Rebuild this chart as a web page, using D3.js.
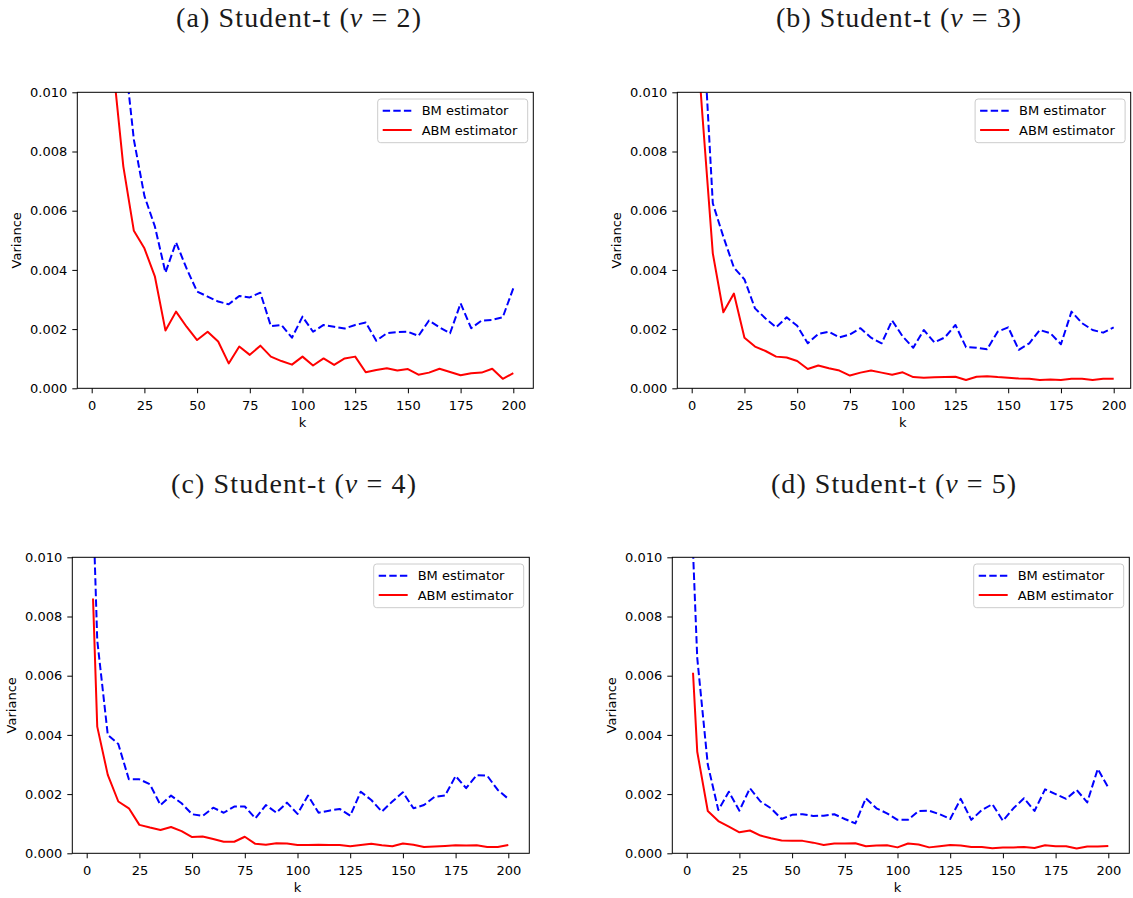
<!DOCTYPE html>
<html><head><meta charset="utf-8">
<script src="https://cdn.jsdelivr.net/npm/d3@7/dist/d3.min.js"></script>
<style>
html,body{margin:0;padding:0;background:#fff;}
svg{display:block;}
.tick text{font-family:"DejaVu Sans",sans-serif;font-size:13px;fill:#000;}
</style></head>
<body>
<svg id="chart" width="1133" height="898"></svg>
<script>
// ---------- data ----------
const kValues = [3,5,10,15,20,25,30,35,40,45,50,55,60,65,70,75,80,85,90,95,100,105,110,115,120,125,130,135,140,145,150,155,160,165,170,175,180,185,190,195,200];
const xTicks = [0,25,50,75,100,125,150,175,200];
const yTicks = [0,0.002,0.004,0.006,0.008,0.010];
const titles = ["(a) Student-t (", "(b) Student-t (", "(c) Student-t (", "(d) Student-t ("];
const nuValues = [2,3,4,5];
const seriesNames = ["BM estimator","ABM estimator"];

const bmA = [0.056,0.034,0.017,0.0117,0.0084,0.0065,0.00546,0.00391,0.00493,0.00405,0.00327,0.0031,0.00293,0.00284,0.00312,0.00307,0.00323,0.0021,0.00214,0.00171,0.00242,0.00191,0.00214,0.00208,0.00202,0.00214,0.00222,0.00161,0.00186,0.0019,0.00191,0.00177,0.00229,0.00206,0.00186,0.00287,0.00203,0.00229,0.00231,0.0024,0.00338];
const abmA = [0.036,0.021,0.011,0.0075,0.00532,0.00473,0.00377,0.00195,0.00259,0.00208,0.00163,0.00191,0.00158,0.00084,0.00141,0.00113,0.00144,0.00107,0.00092,0.0008,0.00107,0.00077,0.00101,0.00079,0.00101,0.00107,0.00054,0.00062,0.00068,0.0006,0.00065,0.00046,0.00053,0.00066,0.00055,0.00044,0.00051,0.00053,0.00066,0.00032,0.00051];
const bmB = [0.02,0.0128,0.00625,0.00512,0.00408,0.00368,0.0027,0.00236,0.00206,0.0024,0.00211,0.00152,0.00184,0.00191,0.00172,0.00182,0.00203,0.00171,0.00152,0.00229,0.00175,0.00137,0.00197,0.00155,0.00172,0.00214,0.00139,0.00137,0.00132,0.00191,0.00206,0.0013,0.00152,0.00197,0.00186,0.00149,0.00259,0.0022,0.00197,0.00188,0.00206];
const abmB = [0.0113,0.0093,0.00456,0.00257,0.0032,0.00171,0.00141,0.00126,0.00107,0.00104,0.00092,0.00065,0.00077,0.00068,0.0006,0.00043,0.00053,0.0006,0.00053,0.00046,0.00054,0.00038,0.00036,0.00037,0.00038,0.00039,0.00028,0.00039,0.00041,0.00038,0.00036,0.00033,0.00032,0.00028,0.0003,0.00028,0.00032,0.00032,0.00028,0.00032,0.00032];
const bmC = [0.0118,0.0072,0.004,0.00369,0.0025,0.0025,0.00233,0.00163,0.00195,0.00169,0.00132,0.00126,0.00154,0.00137,0.00158,0.00158,0.00118,0.00163,0.00137,0.00171,0.00133,0.00195,0.00137,0.00144,0.0015,0.00127,0.00208,0.0018,0.00141,0.00175,0.00206,0.00152,0.00163,0.00191,0.00195,0.00261,0.0022,0.00264,0.00262,0.00214,0.00184];
const abmC = [0.00861,0.00428,0.00265,0.00175,0.00152,0.00096,0.00087,0.00079,0.00089,0.00075,0.00055,0.00057,0.00048,0.00039,0.00039,0.00056,0.00032,0.00029,0.00034,0.00033,0.00028,0.00028,0.00029,0.00028,0.00028,0.00024,0.00028,0.00032,0.00027,0.00024,0.00033,0.00029,0.00021,0.00023,0.00025,0.00027,0.00026,0.00027,0.00021,0.00021,0.00028];
const bmD = [0.0102,0.0066,0.003,0.00146,0.00208,0.00144,0.0022,0.00175,0.00152,0.00116,0.0013,0.00132,0.00126,0.00127,0.00132,0.00116,0.00101,0.00186,0.00152,0.00135,0.00113,0.00113,0.00143,0.00144,0.00132,0.00116,0.00184,0.00113,0.00146,0.00166,0.0011,0.00152,0.00186,0.00143,0.00216,0.002,0.00184,0.00214,0.00172,0.00285,0.00222];
const abmD = [0.0061,0.00343,0.00143,0.00109,0.0009,0.00071,0.00077,0.0006,0.00051,0.00043,0.00042,0.00042,0.00036,0.00028,0.00033,0.00033,0.00034,0.00024,0.00026,0.00027,0.0002,0.00033,0.0003,0.0002,0.00024,0.00028,0.00026,0.00021,0.00021,0.00017,0.0002,0.0002,0.00021,0.00018,0.00027,0.00024,0.00024,0.00016,0.00023,0.00023,0.00025];

// ---------- layout ----------
const layout = [
  {left:77.3, right:533.3, top:92.3, bottom:388.3, x0:91.7, x200:513.3, tx:298.5, ty:27},
  {left:677.3, right:1130.7, top:92.3, bottom:388.3, x0:691.7, x200:1113.7, tx:898.5, ty:27},
  {left:72.3, right:529.3, top:557.3, bottom:853.3, x0:86.7, x200:508.3, tx:293.5, ty:493},
  {left:672.3, right:1129.3, top:557.3, bottom:853.3, x0:686.7, x200:1108.3, tx:893.5, ty:493}
];
const bmSeries = [bmA,bmB,bmC,bmD];
const abmSeries = [abmA,abmB,abmC,abmD];
const colors = ["#0000ff","#ff0000"];

const svg = d3.select("#chart");
const defs = svg.append("defs");

layout.forEach((L,i)=>{
  const x = d3.scaleLinear().domain([0,200]).range([L.x0,L.x200]);
  const y = d3.scaleLinear().domain([0,0.010]).range([L.bottom,L.top]);
  const g = svg.append("g");

  // title
  const t = g.append("text").attr("x",L.tx).attr("y",L.ty)
    .attr("text-anchor","middle")
    .attr("textLength",245).attr("lengthAdjust","spacing")
    .style("font-family","'Liberation Serif','Times New Roman',serif")
    .style("font-size","28px").attr("fill","#1a1a1a");
  t.append("tspan").text(titles[i]);
  t.append("tspan").style("font-style","italic").text("\u03bd");
  t.append("tspan").text(" = " + nuValues[i] + ")");

  // clip
  defs.append("clipPath").attr("id","clip"+i).append("rect")
    .attr("x",L.left).attr("y",L.top).attr("width",L.right-L.left).attr("height",L.bottom-L.top);

  // lines
  const line = d3.line().x((d,j)=>x(kValues[j])).y(d=>y(d));
  const lg = g.append("g").attr("clip-path","url(#clip"+i+")");
  lg.append("path").datum(bmSeries[i]).attr("d",line)
    .attr("fill","none").attr("stroke",colors[0]).attr("stroke-width",2)
    .attr("stroke-dasharray","7.4,3.2").attr("stroke-linejoin","round");
  lg.append("path").datum(abmSeries[i]).attr("d",line)
    .attr("fill","none").attr("stroke",colors[1]).attr("stroke-width",2)
    .attr("stroke-linejoin","round");

  // frame
  g.append("rect").attr("x",L.left).attr("y",L.top)
    .attr("width",L.right-L.left).attr("height",L.bottom-L.top)
    .attr("fill","none").attr("stroke","#000").attr("stroke-width",1);

  // axes
  const xa = g.append("g").attr("transform",`translate(0,${L.bottom})`)
    .call(d3.axisBottom(x).tickValues(xTicks).tickSize(5).tickSizeOuter(0).tickPadding(7).tickFormat(d3.format("d")));
  xa.select(".domain").remove();
  xa.selectAll(".tick line").attr("stroke","#000");
  const ya = g.append("g").attr("transform",`translate(${L.left},0)`)
    .call(d3.axisLeft(y).tickValues(yTicks).tickSize(5).tickSizeOuter(0).tickPadding(5).tickFormat(d3.format(".3f")));
  ya.select(".domain").remove();
  ya.selectAll(".tick line").attr("stroke","#000");

  // axis labels
  g.append("text").attr("x",(L.x0+L.x200)/2).attr("y",L.bottom+39)
    .attr("text-anchor","middle").style("font-family","'DejaVu Sans',sans-serif")
    .style("font-size","13px").text("k");
  g.append("text").attr("transform",`translate(${L.left-56},${(L.top+L.bottom)/2}) rotate(-90)`)
    .attr("text-anchor","middle").style("font-family","'DejaVu Sans',sans-serif")
    .style("font-size","13px").text("Variance");

  // legend
  const lx = L.right-5.6-150, ly = L.top+6.7;
  const leg = g.append("g");
  leg.append("rect").attr("x",lx).attr("y",ly).attr("width",150).attr("height",43.7)
    .attr("rx",3).attr("fill","#fff").attr("fill-opacity",0.8)
    .attr("stroke","#cccccc").attr("stroke-width",1);
  seriesNames.forEach((nm,j)=>{
    const cy = ly + 11.7 + j*19.3;
    leg.append("line").attr("x1",lx+5).attr("x2",lx+34).attr("y1",cy).attr("y2",cy)
      .attr("stroke",colors[j]).attr("stroke-width",2)
      .attr("stroke-dasharray", j===0 ? "7.4,3.2" : null);
    leg.append("text").attr("x",lx+44).attr("y",cy+4.7)
      .style("font-family","'DejaVu Sans',sans-serif").style("font-size","13px").text(nm);
  });
});
</script>
</body></html>
